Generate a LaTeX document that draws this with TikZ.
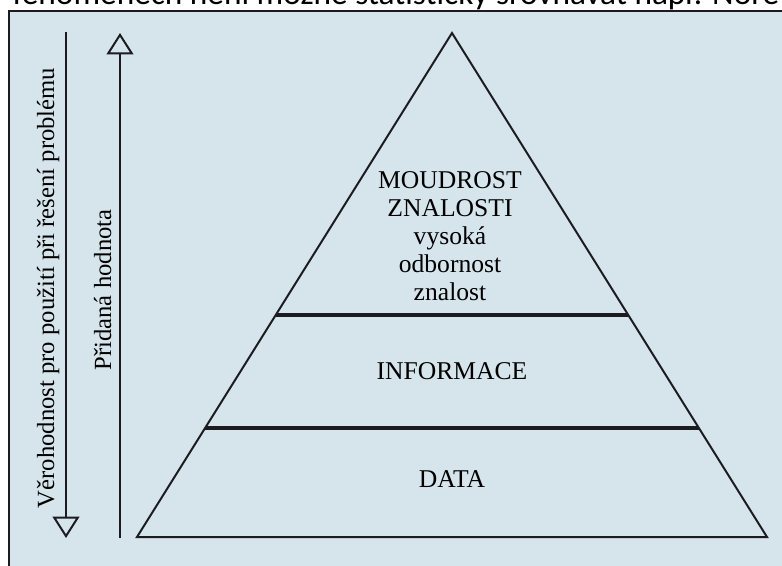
\documentclass[tikz,border=0pt]{standalone}
\usepackage{fontspec}
\setmainfont{Liberation Serif}
\newfontfamily\pagefont{Carlito}
\usetikzlibrary{arrows.meta,calc}
\tikzset{every picture/.style={line width=0.75pt}}
\definecolor{panelblue}{RGB}{214,228,236}
\definecolor{inkgray}{RGB}{28,28,32}
\newcommand\pyrfont{\fontsize{18.5}{21}\selectfont}
\newcommand\layerfont{\fontsize{19.2}{21}\selectfont}
\tikzset{valuearrow/.style={color=inkgray, line width=1.5, -{Triangle[open, length=16pt, width=20pt, fill=panelblue]}}}

\begin{document}
\begin{tikzpicture}[x=0.75pt,y=0.75pt,yscale=-1,xscale=1]
\useasboundingbox (0,0) rectangle (782,566);

%Shape: Rectangle [id:panel]
\fill[panelblue] (9,11) rectangle (790,570);
\draw[color=inkgray, line width=1.2] (9,570) -- (9,11) -- (790,11);

% Text Node
\draw (12,5) node (pageline) [anchor=base west][inner sep=0pt] [font=\pagefont\fontsize{25}{30}\selectfont] {fenoménech není možné statisticky srovnávat např. Nore};

%Shape: Triangle [id:pyramid]
\coordinate (apex) at (452,33);
\coordinate (baseL) at (137,537);
\coordinate (baseR) at (767,537);
\draw[color=inkgray, line width=1.5, line join=miter] (apex) -- (baseR) -- (baseL) -- cycle;
%Straight Lines [id:layer borders]
\draw[color=inkgray, line width=2.3] ($(apex)!0.5595!(baseL)$) -- ($(apex)!0.5595!(baseR)$);
\draw[color=inkgray, line width=2.3] ($(apex)!0.7837!(baseL)$) -- ($(apex)!0.7837!(baseR)$);

%Straight Lines [id:arrows]
\coordinate (trustTop) at (66,32);
\coordinate (trustEnd) at (66,538);
\coordinate (valueBot) at (120,538);
\coordinate (valueEnd) at (120,33);
\draw[valuearrow] (trustTop) -- (trustEnd);
\draw[valuearrow] (valueBot) -- (valueEnd);

% Text Node
\draw (54,288) node (trust) [anchor=base][rotate=90][inner sep=0pt] [font=\pyrfont] {Věrohodnost pro použití při řešení problému};
% Text Node
\draw (111,290) node (value) [anchor=base][rotate=90][inner sep=0pt] [font=\pyrfont] {Přidaná hodnota};
% Text Node
\draw (450,236) node (wisdom) [inner sep=0pt] [font=\layerfont] [align=center] {MOUDROST\\ZNALOSTI\\vysoká\\odbornost\\znalost};
% Text Node
\draw (452,371) node (info) [inner sep=0pt] [font=\layerfont] {INFORMACE};
% Text Node
\draw (452,479) node (data) [inner sep=0pt] [font=\layerfont] {DATA};

\end{tikzpicture}
\end{document}
